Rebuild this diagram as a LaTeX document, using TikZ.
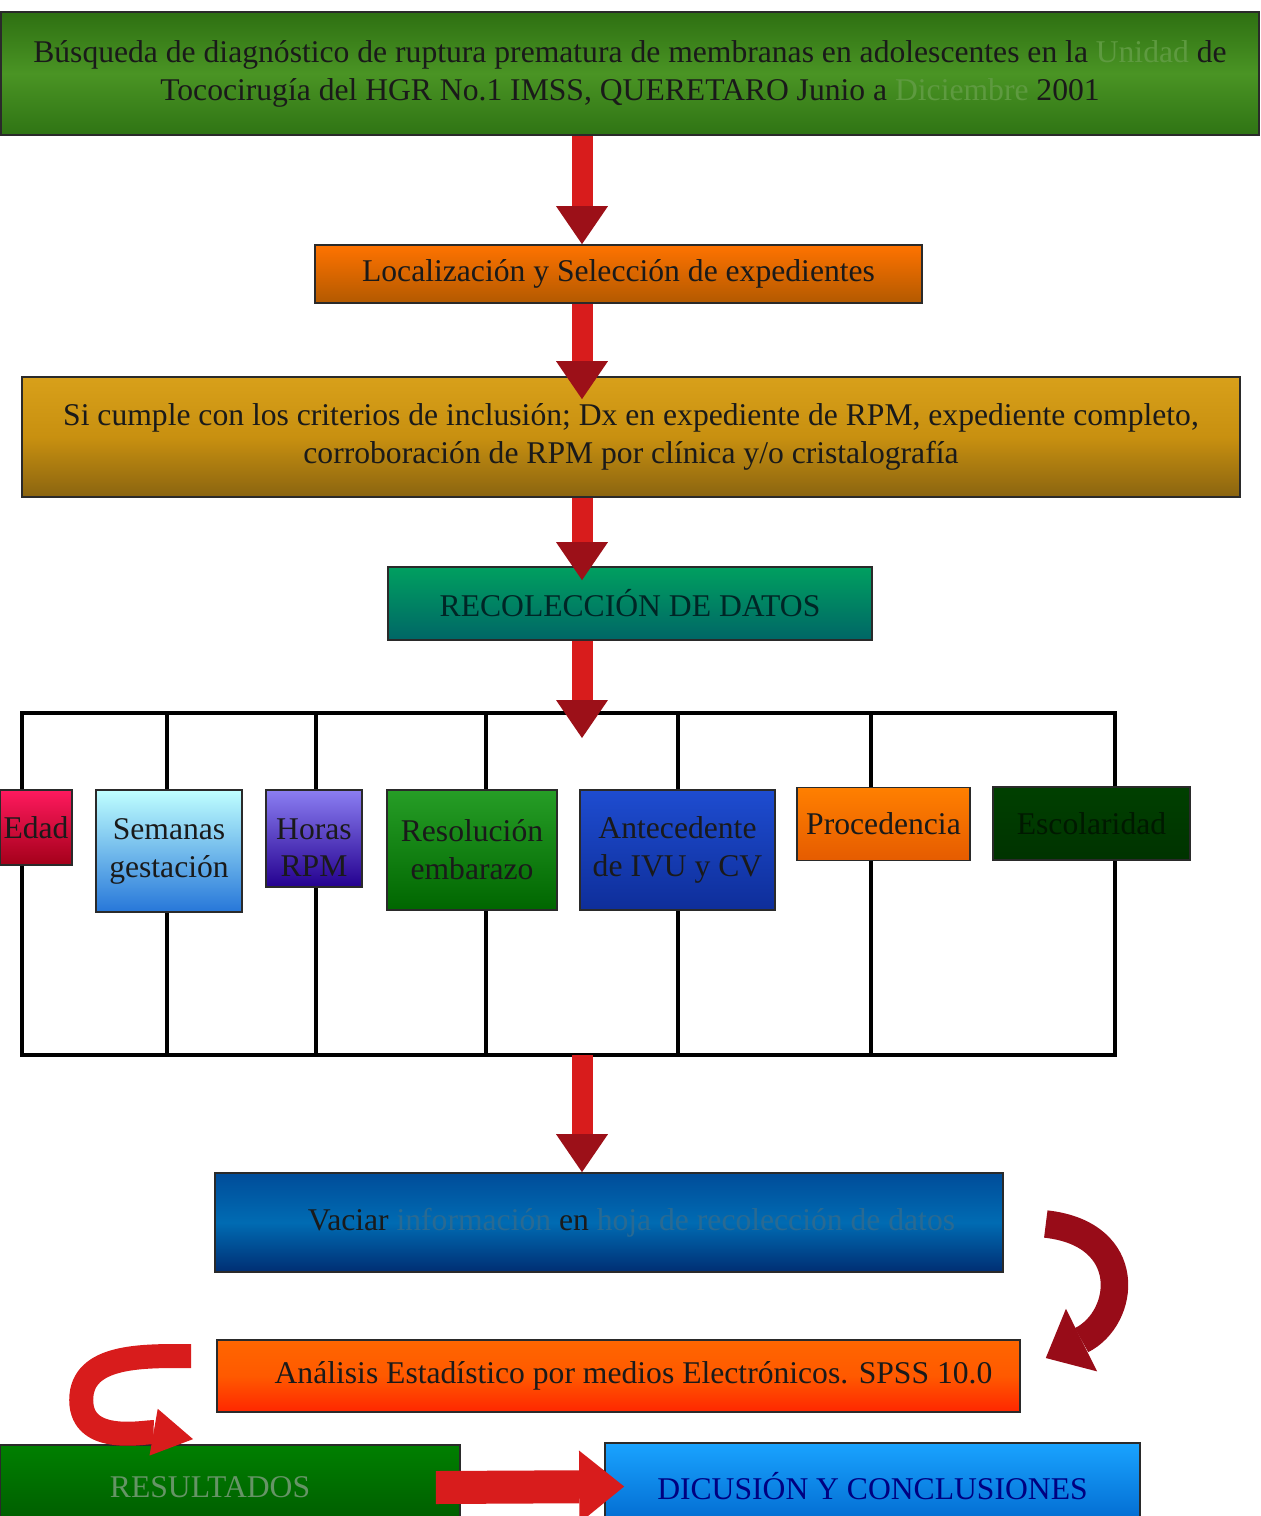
\documentclass[tikz,border=0pt]{standalone}
\usepackage{fontspec}
\setmainfont{Liberation Serif}
\usepackage{tikz}
\usetikzlibrary{arrows.meta}

\definecolor{boxline}{HTML}{2A2A2A}
\definecolor{textdark}{HTML}{1A1A1A}
\definecolor{arrowred}{HTML}{D81C1C}
\definecolor{arrowdark}{HTML}{9C1018}
\definecolor{curvedark}{HTML}{980C18}
\definecolor{fadegreen}{HTML}{5E9A40}
\definecolor{fadeblue}{HTML}{2A6A92}
\definecolor{busqtop}{HTML}{2E7012}
\definecolor{busqmid}{HTML}{4A9424}
\definecolor{busqbot}{HTML}{2F7414}
\definecolor{crittop}{HTML}{D8A01A}
\definecolor{critmid}{HTML}{C89010}
\definecolor{critbot}{HTML}{8A6410}
\definecolor{anttop}{HTML}{1E4CD0}
\definecolor{antbot}{HTML}{0E2E9A}

\begin{document}
\begin{tikzpicture}[x=0.02cm,y=-0.02cm,
  box/.style={draw=boxline,line width=1pt,inner sep=1pt,align=center,
    font=\fontsize{18}{21.6}\selectfont,text=textdark},
  bar/.style={line width=2.6pt,black},
  blockarr/.style={draw=arrowred,line width=0.42cm,
    -{Triangle[width=1.04cm,length=0.76cm,line width=0pt,color=arrowdark]}},
  curvearr/.style={line width=0.55cm,
    -{Triangle[width=1.4cm,length=0.8cm,line width=0pt]}}]

  \fill[white] (0,0) rectangle (1261,1516);
  \useasboundingbox (0,0) rectangle (1261,1516);
  \coordinate (axis) at (582,0);

  % pasos principales
  \node[box,top color=busqtop,bottom color=busqbot,middle color=busqmid,
    minimum width=25.16cm,minimum height=2.46cm] (busq) at (630,73.5)
    {Búsqueda de diagnóstico de ruptura prematura de membranas en adolescentes en la {\color{fadegreen}Unidad} de\\
     Tococirugía del HGR No.1 IMSS, QUERETARO Junio a {\color{fadegreen}Diciembre} 2001};
  \node[box,top color=orange!90!red,bottom color=orange!70!black,
    minimum width=12.14cm,minimum height=1.16cm] (loc) at (618.5,274)
    {Localización y Selección de expedientes};
  \node[box,top color=crittop,bottom color=critbot,middle color=critmid,
    minimum width=24.36cm,minimum height=2.4cm] (crit) at (631,437)
    {Si cumple con los criterios de inclusión; Dx en expediente de RPM, expediente completo,\\
     corroboración de RPM por clínica y/o cristalografía};
  \node[box,top color=teal!75!green,bottom color=teal!80!black,text=teal!30!black,
    minimum width=9.68cm,minimum height=1.46cm] (recol) at (630,603.5)
    {RECOLECCIÓN DE DATOS};

  % marco de variables
  \coordinate (tl) at (22,713);
  \coordinate (br) at (1115,1055);
  \draw[bar] (tl) rectangle (br);
  \foreach \x in {167,316,486,678,871}
    \draw[bar] (\x,713) -- (\x,1055);

  \node[box,top color=red!70!magenta!90!white,bottom color=red!60!black!90!magenta,
    minimum width=1.44cm,minimum height=1.5cm] (edad) at (36,827.5) {Edad};
  \node[box,top color=cyan!25,bottom color=cyan!45!blue!70!gray,
    minimum width=2.92cm,minimum height=2.44cm] (sem) at (169,851) {Semanas\\gestación};
  \node[box,top color=blue!45!white!90!violet,bottom color=blue!60!violet!70!black,
    minimum width=1.92cm,minimum height=1.94cm] (hrs) at (314,838.5) {\rule{0pt}{0.78cm}Horas\\RPM};
  \node[box,top color=green!55!black!85!white,bottom color=green!40!black,
    minimum width=3.4cm,minimum height=2.4cm] (reso) at (472,850) {Resolución\\embarazo};
  \node[box,top color=anttop,bottom color=antbot,
    minimum width=3.9cm,minimum height=2.4cm] (ant) at (677.5,850) {Antecedente\\de IVU y CV};
  \node[box,top color=orange,bottom color=orange!80!red!90!black,
    minimum width=3.46cm,minimum height=1.46cm] (proc) at (883.5,824) {Procedencia};
  \node[box,top color=green!25!black,bottom color=green!20!black,text=green!10!black,
    minimum width=3.94cm,minimum height=1.46cm] (esc) at (1091.5,823.5) {Escolaridad};

  % cierre
  \node[box,top color=cyan!50!blue!60!black,bottom color=cyan!40!blue!45!black,middle color=cyan!60!blue!70!black,
    minimum width=15.76cm,minimum height=1.98cm] (vac) at (609,1222.5)
    {\hspace*{0.9cm}\raisebox{-0.28cm}{Vaciar {\color{fadeblue}información} en {\color{fadeblue}hoja de recolección de datos}}};
  \node[box,top color=orange!80!red,bottom color=red!70!orange,middle color=orange!70!red,
    minimum width=16.06cm,minimum height=1.44cm] (ana) at (618.5,1376)
    {\hspace*{0.6cm}\raisebox{-0.12cm}{Análisis Estadístico por medios Electrónicos. SPSS 10.0}};
  \node[box,top color=green!50!black,bottom color=green!35!black,text=green!30!black!60!white,
    minimum width=9.2cm,minimum height=1.7cm] (resul) at (230,1487.5)
    {\hspace*{-0.8cm}RESULTADOS};
  \node[box,top color=cyan!60!blue!90!white,bottom color=cyan!50!blue!80!black,text=blue!50!black,
    minimum width=10.7cm,minimum height=1.74cm] (disc) at (872.5,1486.5)
    {DICUSIÓN Y CONCLUSIONES};

  % flechas
  \draw[blockarr] (busq.south -| axis) -- (loc.north -| axis);
  \draw[blockarr,shorten >=-0.46cm] (loc.south -| axis) -- (crit.north -| axis);
  \draw[blockarr,shorten >=-0.28cm] (crit.south -| axis) -- (recol.north -| axis);
  \draw[blockarr,shorten >=-0.5cm] (recol.south -| axis) -- (tl -| axis);
  \draw[blockarr] (br -| axis) -- (vac.north -| axis);

  \draw[curvearr,curvedark] ([xshift=0.84cm,yshift=-0.03cm]vac.east)
    .. controls +(1.8cm,-0.2cm) and +(1.6cm,0.8cm) .. ([xshift=0.5cm,yshift=0.36cm]ana.east);
  \draw[curvearr,arrowred,line width=0.48cm,
    -{Triangle[width=0.95cm,length=0.8cm,line width=0pt]}]
    ([xshift=-0.5cm,yshift=0.4cm]ana.west)
    to[out=180,in=90] ++(-2.2cm,-0.88cm)
    to[out=-90,in=170] ([xshift=-0.74cm,yshift=0.1cm]resul.north);
  \draw[arrowred,line width=0.66cm,
    -{Triangle[width=1.45cm,length=0.9cm,line width=0pt]}]
    ([xshift=-0.5cm]resul.east) -- ([xshift=0.4cm]disc.west);
\end{tikzpicture}
\end{document}
